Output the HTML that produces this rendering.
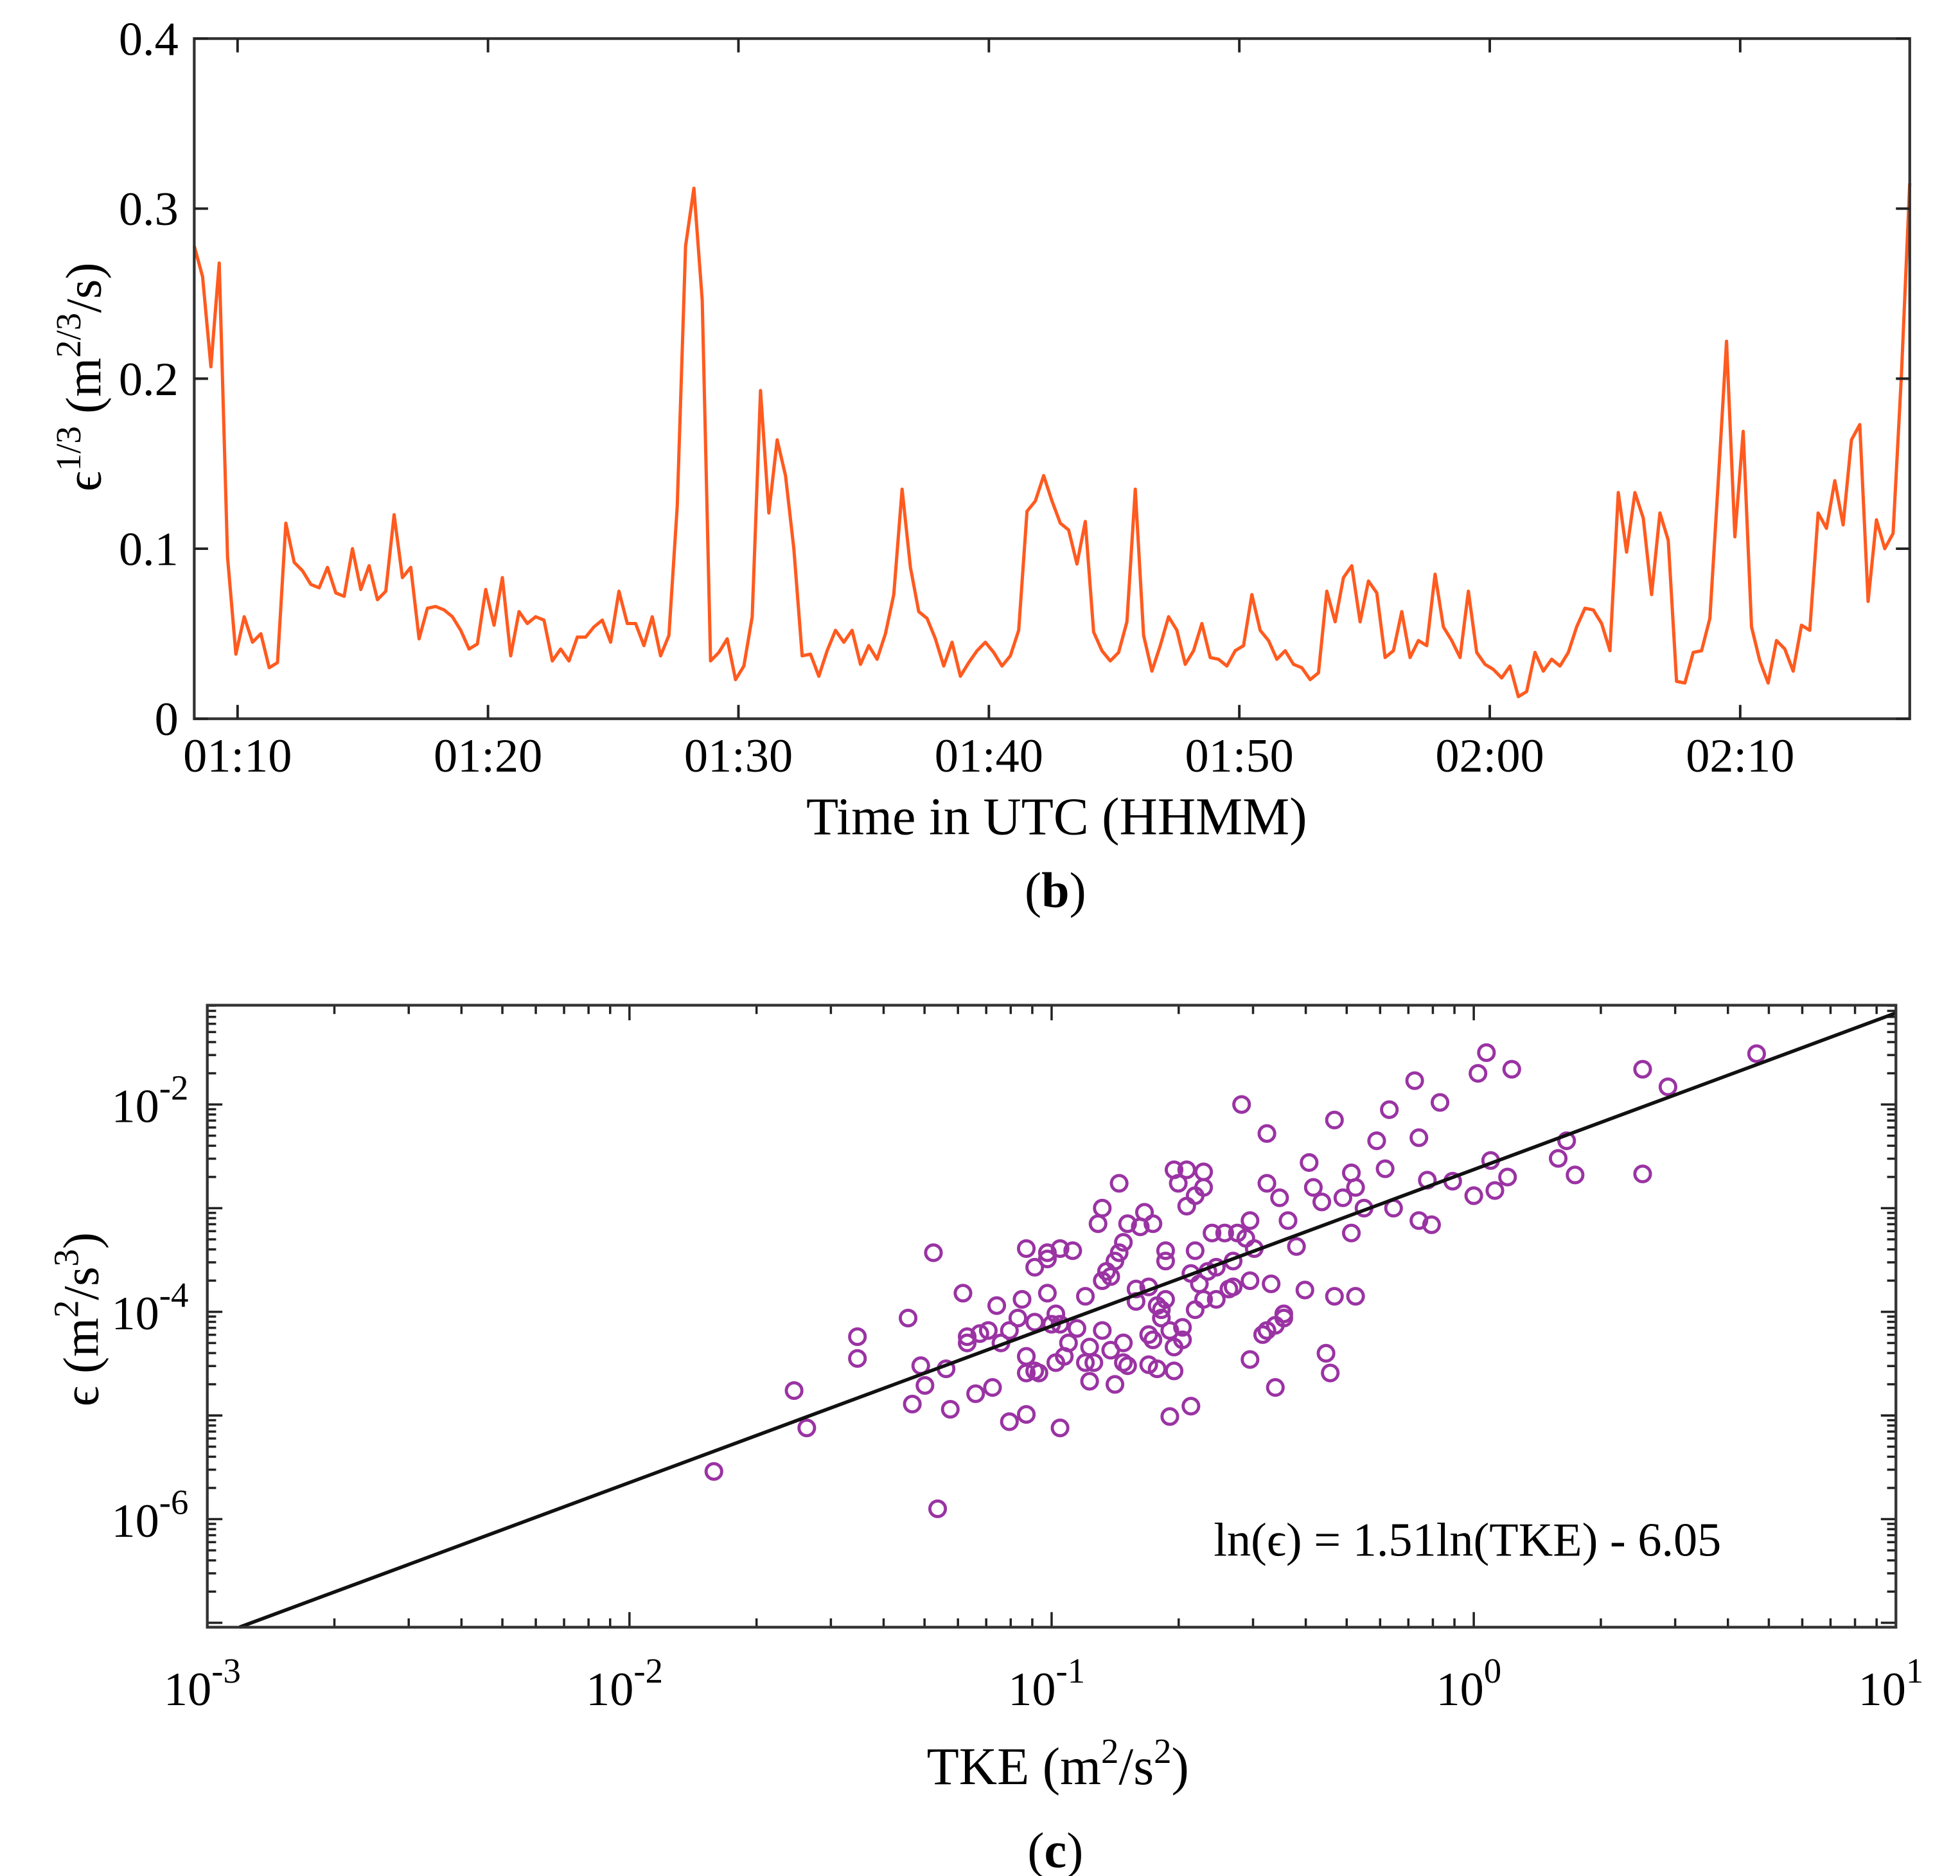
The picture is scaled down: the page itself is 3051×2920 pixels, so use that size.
<!DOCTYPE html>
<html><head><meta charset="utf-8"><style>
html,body{margin:0;padding:0;background:#fff;}
svg{display:block;}
text{font-family:"Liberation Serif",serif;fill:#000;}
</style></head><body>
<svg id="fig" width="3051" height="2920" viewBox="0 0 1560 1493" xmlns="http://www.w3.org/2000/svg">
<rect width="1560" height="1493" fill="#fff"/>
<g id="top"></g>
<g id="bot"></g>
<text x="840" y="722" text-anchor="middle" font-size="40">(<tspan font-weight="bold">b</tspan>)</text>
<text x="840" y="1486" text-anchor="middle" font-size="40">(<tspan font-weight="bold">c</tspan>)</text>
</svg>
<script>
// ---------- Panel (b) data ----------
const tStartMin = 68.27;   // 01:08:16
const tEndMin = 136.77;
const xTickMinutes = [70, 80, 90, 100, 110, 120, 130];
const xTickLabels = ["01:10","01:20","01:30","01:40","01:50","02:00","02:10"];
const yTickValues = [0, 0.1, 0.2, 0.3, 0.4];
const yTickLabels = ["0","0.1","0.2","0.3","0.4"];
const epsCubeRoot = [0.278,0.26,0.207,0.268,0.095,0.038,0.06,0.045,0.05,0.03,0.033,0.115,0.092,0.087,0.079,0.077,0.089,0.074,0.072,0.1,0.076,0.09,0.07,0.075,0.12,0.083,0.089,0.047,0.065,0.066,0.064,0.06,0.052,0.041,0.044,0.076,0.055,0.083,0.037,0.063,0.056,0.06,0.058,0.034,0.041,0.034,0.048,0.048,0.054,0.058,0.045,0.075,0.056,0.056,0.043,0.06,0.037,0.049,0.125,0.278,0.312,0.246,0.034,0.039,0.047,0.023,0.031,0.06,0.193,0.121,0.164,0.143,0.1,0.037,0.038,0.025,0.04,0.052,0.045,0.052,0.032,0.043,0.035,0.05,0.073,0.135,0.089,0.063,0.059,0.047,0.031,0.045,0.025,0.033,0.04,0.045,0.039,0.031,0.037,0.052,0.122,0.128,0.143,0.128,0.115,0.111,0.091,0.116,0.051,0.04,0.034,0.039,0.057,0.135,0.049,0.028,0.043,0.06,0.052,0.032,0.04,0.056,0.036,0.035,0.031,0.04,0.043,0.073,0.052,0.046,0.035,0.04,0.032,0.03,0.023,0.027,0.075,0.057,0.083,0.09,0.057,0.081,0.074,0.036,0.04,0.063,0.036,0.046,0.043,0.085,0.054,0.046,0.036,0.075,0.039,0.032,0.029,0.024,0.031,0.013,0.016,0.039,0.028,0.035,0.031,0.039,0.054,0.065,0.064,0.056,0.04,0.133,0.098,0.133,0.118,0.073,0.121,0.105,0.022,0.021,0.039,0.04,0.059,0.139,0.222,0.107,0.169,0.054,0.034,0.021,0.046,0.041,0.028,0.055,0.052,0.121,0.112,0.14,0.114,0.164,0.173,0.069,0.117,0.1,0.109,0.202,0.315];

// ---------- Panel (c) data (log10 values) ----------
const logTKE = [-1.80,-1.61,-1.58,-1.46,-1.46,-1.34,-1.33,-1.31,-1.30,-1.28,-1.27,-1.25,-1.24,-1.21,-1.20,-1.20,-1.18,-1.17,-1.15,-1.14,-1.13,-1.12,-1.10,-1.10,-1.08,-1.07,-1.06,-1.06,-1.06,-1.06,-1.04,-1.04,-1.04,-1.03,-1.01,-1.01,-1.01,-1.00,-0.99,-0.99,-0.98,-0.98,-0.98,-0.97,-0.96,-0.95,-0.94,-0.92,-0.92,-0.91,-0.91,-0.90,-0.89,-0.88,-0.88,-0.88,-0.87,-0.86,-0.86,-0.85,-0.85,-0.84,-0.84,-0.83,-0.83,-0.83,-0.82,-0.82,-0.80,-0.80,-0.79,-0.78,-0.77,-0.77,-0.77,-0.76,-0.76,-0.75,-0.75,-0.74,-0.74,-0.73,-0.73,-0.73,-0.72,-0.72,-0.71,-0.71,-0.71,-0.70,-0.69,-0.69,-0.68,-0.68,-0.67,-0.67,-0.66,-0.66,-0.66,-0.65,-0.64,-0.64,-0.64,-0.63,-0.62,-0.61,-0.61,-0.59,-0.58,-0.57,-0.57,-0.56,-0.55,-0.54,-0.53,-0.53,-0.53,-0.52,-0.50,-0.49,-0.49,-0.49,-0.48,-0.47,-0.47,-0.46,-0.45,-0.45,-0.44,-0.42,-0.40,-0.39,-0.38,-0.36,-0.35,-0.34,-0.33,-0.33,-0.31,-0.29,-0.29,-0.28,-0.28,-0.26,-0.23,-0.21,-0.20,-0.19,-0.14,-0.13,-0.13,-0.10,-0.11,-0.08,-0.05,0.00,0.01,0.03,0.04,0.05,0.08,0.09,0.20,0.22,0.24,0.40,0.40,0.46,0.67];
const logEps = [-5.54,-4.76,-5.12,-4.24,-4.45,-4.06,-4.89,-4.52,-4.71,-3.43,-5.90,-4.55,-4.94,-3.82,-4.30,-4.24,-4.79,-4.21,-4.18,-4.73,-3.94,-4.30,-5.06,-4.18,-4.06,-3.88,-4.99,-3.39,-4.43,-4.59,-3.57,-4.57,-4.10,-4.59,-3.82,-3.49,-3.43,-4.12,-4.02,-4.49,-3.39,-5.12,-4.12,-4.43,-4.30,-3.41,-4.16,-3.85,-4.49,-4.67,-4.34,-4.49,-3.15,-3.00,-4.18,-3.70,-3.61,-4.37,-3.66,-3.51,-4.70,-2.76,-3.43,-3.33,-4.30,-4.49,-3.15,-4.52,-3.90,-3.78,-3.18,-3.04,-4.22,-4.51,-3.76,-4.27,-3.15,-3.94,-4.55,-4.06,-3.98,-3.88,-3.41,-3.51,-5.01,-4.18,-2.63,-4.34,-4.57,-2.76,-4.27,-4.15,-2.98,-2.63,-4.91,-3.63,-2.88,-3.41,-3.98,-3.73,-2.80,-3.88,-2.65,-3.61,-3.24,-3.88,-3.57,-3.24,-3.78,-3.76,-3.51,-3.24,-2.00,-3.29,-4.46,-3.70,-3.12,-3.39,-4.22,-4.18,-2.28,-2.76,-3.73,-4.73,-4.13,-2.90,-4.02,-4.06,-3.12,-3.37,-3.79,-2.56,-2.80,-2.94,-4.40,-4.59,-2.15,-3.85,-2.90,-2.66,-3.24,-3.85,-2.80,-3.00,-2.35,-2.62,-2.05,-3.00,-1.77,-2.32,-3.12,-3.16,-2.73,-1.98,-2.74,-2.88,-1.70,-1.50,-2.54,-2.83,-2.70,-1.66,-2.52,-2.35,-2.68,-1.66,-2.67,-1.83,-1.51];
const fitSlope = 1.51;
const fitIntercept = -6.05;
const xDecades = [-3,-2,-1,0,1];
const yDecadesLabeled = [-2,-4,-6];

const NS = "http://www.w3.org/2000/svg";
function mk(parent, tag, attrs){const e=document.createElementNS(NS,tag);for(const k in attrs)e.setAttribute(k,attrs[k]);parent.appendChild(e);return e;}

// ===== Panel (b) =====
(function(){
  const g=document.getElementById('top');
  const L=154.6,R=1520,T=30.7,B=572;
  const xs=m=>L+(m-tStartMin)/(tEndMin-tStartMin)*(R-L);
  const ys=v=>B-v/0.4*(B-T);
  let d='';
  const n=epsCubeRoot.length;
  epsCubeRoot.forEach((v,i)=>{const t=tStartMin+i*(tEndMin-tStartMin)/(n-1);d+=(i?'L':'M')+xs(t).toFixed(2)+' '+ys(v).toFixed(2);});
  const ln=mk(g,'path',{d:d,fill:'none',stroke:'#ff5a1f','stroke-width':2.6,'stroke-linejoin':'round'});
  
  
  const fr=mk(g,'rect',{x:L,y:T,width:R-L,height:B-T,fill:'none',stroke:'#333','stroke-width':2.2});
  
  
  xTickMinutes.forEach((m,i)=>{
    const x=xs(m);
    mk(g,'line',{x1:x,y1:B,x2:x,y2:B-11,stroke:'#222','stroke-width':2});
    mk(g,'line',{x1:x,y1:T,x2:x,y2:T+11,stroke:'#222','stroke-width':2});
    const t=mk(g,'text',{x:x,y:614,'text-anchor':'middle','font-size':38});
    t.textContent=xTickLabels[i];
    
    
  });
  yTickValues.forEach((v,i)=>{
    const y=ys(v);
    mk(g,'line',{x1:L,y1:y,x2:L+11,y2:y,stroke:'#222','stroke-width':2});
    mk(g,'line',{x1:R,y1:y,x2:R-11,y2:y,stroke:'#222','stroke-width':2});
    const t=mk(g,'text',{x:142,y:y+13,'text-anchor':'end','font-size':38});
    t.textContent=yTickLabels[i];
    
    
  });
  const xt=mk(g,'text',{x:841,y:664,'text-anchor':'middle','font-size':42});
  xt.textContent='Time in UTC (HHMM)';
  
  
  const yt=mk(g,'text',{x:0,y:0,'text-anchor':'middle','font-size':40,transform:'translate(80,300) rotate(-90)'});
  yt.innerHTML='ϵ<tspan dy="-16" font-size="28">1/3</tspan><tspan dy="16"> (m</tspan><tspan dy="-16" font-size="28">2/3</tspan><tspan dy="16">/s)</tspan>';
  
  
})();

// ===== Panel (c) =====
(function(){
  const g=document.getElementById('bot');
  const L=165,R=1509,T=800,B=1295;
  const xs=lt=>L+(lt+3)*(R-L)/4;
  const ys=le=>879-(le+2)*82.5;
  const topLog=-2+(879-T)/82.5, botLog=-2-(B-879)/82.5;
  for(let dcd=-3;dcd<1;dcd++){
    for(let k=1;k<=9;k++){
      const lt=dcd+Math.log10(k);const x=xs(lt);const len=k===1?12:7;
      if(x<L-0.5)continue;
      mk(g,'line',{x1:x,y1:B,x2:x,y2:B-len,stroke:'#222','stroke-width':1.8});
      mk(g,'line',{x1:x,y1:T,x2:x,y2:T+len,stroke:'#222','stroke-width':1.8});
    }
  }
  for(let dcd=-8;dcd<0;dcd++){
    for(let k=1;k<=9;k++){
      const le=dcd+Math.log10(k);if(le<botLog||le>topLog)continue;const y=ys(le);const len=k===1?12:7;
      mk(g,'line',{x1:L,y1:y,x2:L+len,y2:y,stroke:'#222','stroke-width':1.8});
      mk(g,'line',{x1:R,y1:y,x2:R-len,y2:y,stroke:'#222','stroke-width':1.8});
    }
  }
  logTKE.forEach((lt,i)=>{
    const c=mk(g,'circle',{cx:xs(lt).toFixed(2),cy:ys(logEps[i]).toFixed(2),r:6.2,fill:'none',stroke:'#9a33a3','stroke-width':2.5});
    
    
  });
  const b10=fitIntercept/Math.LN10;
  const xStart=(botLog-b10)/fitSlope, xEnd=1;
  const fl=mk(g,'line',{x1:xs(xStart),y1:ys(fitSlope*xStart+b10),x2:xs(xEnd),y2:ys(fitSlope*xEnd+b10),stroke:'#111','stroke-width':2.8});
  
  
  const fr=mk(g,'rect',{x:L,y:T,width:R-L,height:B-T,fill:'none',stroke:'#333','stroke-width':2.2});
  
  
  xDecades.forEach(dc=>{
    const t=mk(g,'text',{x:xs(dc)-4,y:1357,'text-anchor':'middle','font-size':38});
    t.innerHTML='10<tspan dy="-18" font-size="28">'+(dc<0?'-':'')+Math.abs(dc)+'</tspan>';
    
    
  });
  yDecadesLabeled.forEach(dc=>{
    const t=mk(g,'text',{x:150,y:ys(dc)+14,'text-anchor':'end','font-size':38});
    t.innerHTML='10<tspan dy="-18" font-size="28">-'+Math.abs(dc)+'</tspan>';
    
    
  });
  const eq=mk(g,'text',{x:1168,y:1238,'text-anchor':'middle','font-size':38});
  eq.textContent='ln(ϵ) = 1.51ln(TKE) - 6.05';
  
  
  const xt=mk(g,'text',{x:842,y:1420,'text-anchor':'middle','font-size':42});
  xt.innerHTML='TKE (m<tspan dy="-17" font-size="28">2</tspan><tspan dy="17">/s</tspan><tspan dy="-17" font-size="28">2</tspan><tspan dy="17">)</tspan>';
  
  
  const yt=mk(g,'text',{x:0,y:0,'text-anchor':'middle','font-size':40,transform:'translate(78,1050) rotate(-90)'});
  yt.innerHTML='ϵ (m<tspan dy="-16" font-size="28">2</tspan><tspan dy="16">/s</tspan><tspan dy="-16" font-size="28">3</tspan><tspan dy="16">)</tspan>';
  
  
})();
</script>
</body></html>
